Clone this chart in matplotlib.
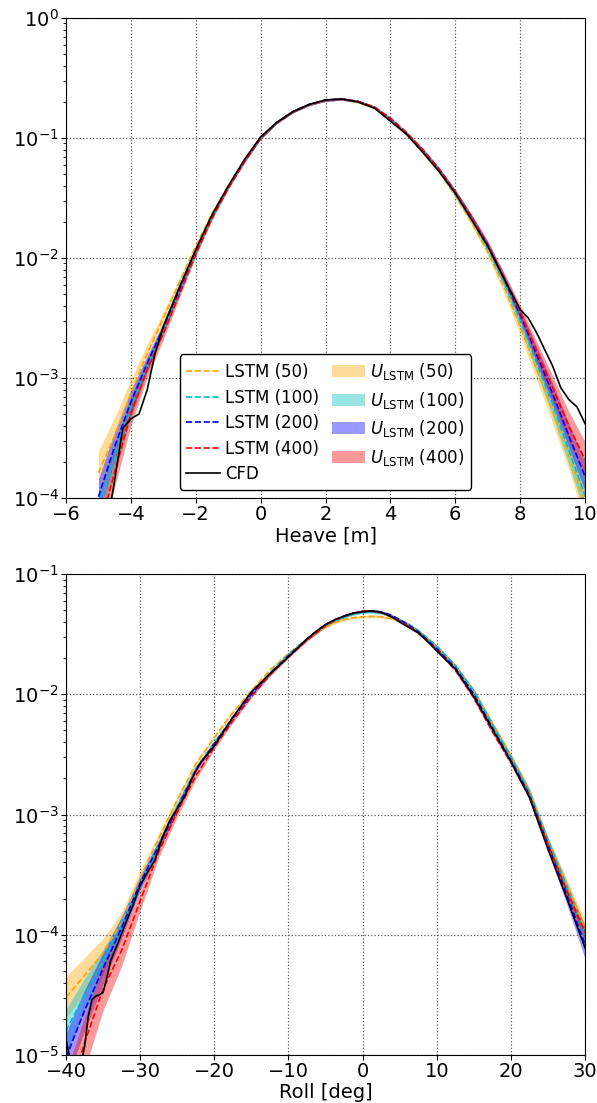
import numpy as np
import matplotlib
matplotlib.use("Agg")
import matplotlib.pyplot as plt

# values are log10 of the density
labels = ["50", "100", "200", "400"]
colors = ["orange", "c", "b", "r"]

# ---------------- Heave ----------------
heave_x = [-5.0, -4.5, -4.0, -3.5, -3.0, -2.5, -2.0, -1.5, -1.0, -0.5, 0.0,
           0.5, 1.0, 1.5, 2.0, 2.5, 3.0, 3.5, 4.0, 4.5, 5.0, 5.5, 6.0, 6.5,
           7.0, 7.5, 8.0, 8.5, 9.0, 9.5, 10.0]

heave_50 = [-3.79, -3.48, -3.13, -2.80, -2.50, -2.20, -1.90, -1.63, -1.40, -1.19, -1.0,
            -0.87, -0.78, -0.72, -0.685, -0.675, -0.70, -0.75, -0.85, -0.97, -1.12,
            -1.28, -1.48, -1.70, -1.95, -2.24, -2.57, -2.92, -3.27, -3.63, -4.05]
heave_100 = [-4.12, -3.68, -3.25, -2.90, -2.60, -2.27, -1.95, -1.66, -1.41, -1.19, -1.0,
             -0.87, -0.78, -0.72, -0.685, -0.675, -0.695, -0.745, -0.845, -0.965, -1.11,
             -1.27, -1.47, -1.68, -1.92, -2.20, -2.52, -2.87, -3.22, -3.60, -3.98]
heave_200 = [-3.99, -3.57, -3.20, -2.88, -2.58, -2.26, -1.94, -1.65, -1.41, -1.19, -1.0,
             -0.87, -0.78, -0.72, -0.685, -0.675, -0.695, -0.745, -0.84, -0.96, -1.10,
             -1.26, -1.45, -1.66, -1.89, -2.17, -2.47, -2.80, -3.13, -3.48, -3.82]
heave_400 = [-4.30, -3.78, -3.30, -2.93, -2.63, -2.30, -1.97, -1.67, -1.42, -1.20, -1.0,
             -0.87, -0.78, -0.72, -0.685, -0.675, -0.695, -0.74, -0.835, -0.955, -1.10,
             -1.26, -1.45, -1.66, -1.89, -2.16, -2.45, -2.77, -3.08, -3.40, -3.68]

# half width of the uncertainty band, decades
heave_u50 = [0.18, 0.15, 0.12, 0.08, 0.05, 0.03, 0.02, 0.015, 0.01, 0.01, 0.01,
             0.01, 0.01, 0.01, 0.01, 0.01, 0.01, 0.01, 0.01, 0.01, 0.015,
             0.015, 0.02, 0.025, 0.03, 0.05, 0.07, 0.09, 0.11, 0.13, 0.15]
heave_u100 = [0.13, 0.12, 0.09, 0.06, 0.04, 0.03, 0.02, 0.015, 0.01, 0.01, 0.01,
              0.01, 0.01, 0.01, 0.01, 0.01, 0.01, 0.01, 0.01, 0.01, 0.015,
              0.015, 0.02, 0.025, 0.03, 0.04, 0.06, 0.08, 0.10, 0.12, 0.15]
heave_u200 = [0.15, 0.12, 0.10, 0.06, 0.04, 0.03, 0.02, 0.015, 0.01, 0.01, 0.01,
              0.01, 0.01, 0.01, 0.01, 0.01, 0.01, 0.01, 0.01, 0.01, 0.015,
              0.015, 0.02, 0.025, 0.03, 0.04, 0.05, 0.07, 0.09, 0.10, 0.12]
heave_u400 = [0.15, 0.13, 0.10, 0.07, 0.05, 0.03, 0.02, 0.015, 0.01, 0.01, 0.01,
              0.01, 0.01, 0.01, 0.01, 0.01, 0.01, 0.01, 0.01, 0.01, 0.015,
              0.015, 0.02, 0.025, 0.03, 0.04, 0.06, 0.08, 0.10, 0.12, 0.15]

cfd_heave_x = [-5.0, -4.75, -4.5, -4.25, -4.0, -3.75, -3.5, -3.25, -3.0, -2.5, -2.0,
               -1.5, -1.0, -0.5, 0.0, 0.5, 1.0, 1.5, 2.0, 2.5, 3.0, 3.5, 4.0, 4.5,
               5.0, 5.5, 6.0, 6.5, 7.0, 7.5, 8.0, 8.25, 8.5, 8.75, 9.0, 9.25, 9.5,
               9.75, 10.0]
cfd_heave = [-4.6, -4.25, -3.85, -3.42, -3.34, -3.30, -3.10, -2.79, -2.57, -2.24, -1.93,
             -1.64, -1.40, -1.18, -0.99, -0.87, -0.78, -0.72, -0.683, -0.675, -0.70,
             -0.75, -0.86, -0.97, -1.12, -1.28, -1.46, -1.68, -1.90, -2.17, -2.43,
             -2.50, -2.62, -2.76, -2.90, -3.08, -3.18, -3.24, -3.38]

# ---------------- Roll ----------------
roll_x = [-40, -37.5, -35, -32.5, -30, -27.5, -25, -22.5, -20, -17.5, -15, -12.5,
          -10, -7.5, -6.25, -5, -3.75, -2.5, -1.25, 0, 1.25, 2.5, 3.75, 5, 6.25,
          7.5, 10, 12.5, 15, 17.5, 20, 22.5, 25, 27.5, 30]

roll_50 = [-4.52, -4.34, -4.15, -3.90, -3.53, -3.20, -2.88, -2.58, -2.36, -2.15, -1.97,
           -1.80, -1.66, -1.54, -1.49, -1.44, -1.405, -1.38, -1.363, -1.355, -1.352,
           -1.355, -1.368, -1.39, -1.425, -1.47, -1.60,
           -1.76, -1.97, -2.24, -2.51, -2.80, -3.22, -3.58, -3.95]
roll_100 = [-4.80, -4.50, -4.22, -3.92, -3.58, -3.25, -2.93, -2.62, -2.40, -2.19, -2.0,
            -1.82, -1.67, -1.54, -1.485, -1.43, -1.39, -1.36, -1.335, -1.32, -1.318,
            -1.325, -1.345, -1.38, -1.42, -1.47, -1.60,
            -1.76, -1.97, -2.25, -2.52, -2.81, -3.22, -3.60, -4.0]
roll_200 = [-5.02, -4.63, -4.28, -3.94, -3.57, -3.26, -2.95, -2.63, -2.41, -2.20, -2.0,
            -1.83, -1.68, -1.54, -1.48, -1.42, -1.38, -1.35, -1.325, -1.31, -1.307,
            -1.315, -1.34, -1.38, -1.425, -1.48, -1.62,
            -1.78, -2.0, -2.28, -2.55, -2.84, -3.25, -3.66, -4.08]
roll_400 = [-5.40, -4.90, -4.45, -4.13, -3.72, -3.31, -2.98, -2.68, -2.44, -2.22, -2.02,
            -1.84, -1.69, -1.55, -1.49, -1.43, -1.385, -1.35, -1.325, -1.31, -1.307,
            -1.32, -1.35, -1.39, -1.435, -1.49, -1.63,
            -1.80, -2.03, -2.31, -2.57, -2.85, -3.25, -3.63, -3.98]

roll_u50 = [0.17, 0.15, 0.12, 0.09, 0.06, 0.04, 0.03, 0.02, 0.015, 0.01, 0.01, 0.01,
            0.01, 0.01, 0.01, 0.01, 0.01, 0.01, 0.01, 0.01, 0.01, 0.01, 0.01, 0.01,
            0.01, 0.01, 0.01, 0.01, 0.015, 0.02, 0.02, 0.025, 0.03, 0.05, 0.07]
roll_u100 = [0.18, 0.14, 0.10, 0.07, 0.05, 0.04, 0.03, 0.02, 0.015, 0.01, 0.01, 0.01,
             0.01, 0.01, 0.01, 0.01, 0.01, 0.01, 0.01, 0.01, 0.01, 0.01, 0.01, 0.01,
             0.01, 0.01, 0.01, 0.01, 0.015, 0.02, 0.02, 0.025, 0.03, 0.05, 0.07]
roll_u200 = [0.20, 0.17, 0.13, 0.09, 0.06, 0.04, 0.03, 0.02, 0.015, 0.01, 0.01, 0.01,
             0.01, 0.01, 0.01, 0.01, 0.01, 0.01, 0.01, 0.01, 0.01, 0.01, 0.01, 0.01,
             0.01, 0.01, 0.01, 0.01, 0.015, 0.02, 0.02, 0.03, 0.05, 0.08, 0.12]
roll_u400 = [0.25, 0.22, 0.18, 0.13, 0.08, 0.05, 0.04, 0.03, 0.02, 0.015, 0.01, 0.01,
             0.01, 0.01, 0.01, 0.01, 0.01, 0.01, 0.01, 0.01, 0.01, 0.01, 0.01, 0.01,
             0.01, 0.01, 0.01, 0.015, 0.02, 0.02, 0.02, 0.025, 0.03, 0.05, 0.06]

cfd_roll_x = [-40, -39.5, -39, -38.5, -38, -37.5, -37, -36.5, -36, -35.5, -35, -34.5,
              -34, -33, -32, -31, -30, -29, -28, -27, -26, -25, -24, -23, -22, -20,
              -17.5, -15, -12.5, -10, -7.5, -6.25, -5, -3.75, -2.5, -1.25, 0, 1, 2,
              3, 4, 5, 6.25, 7.5, 8.75, 10, 12.5, 15, 17.5, 20, 22.5, 25, 27.5, 30]
cfd_roll = [-4.87, -5.02, -5.15, -5.2, -5.08, -4.93, -4.68, -4.54, -4.51, -4.50, -4.48,
            -4.36, -4.22, -4.07, -3.91, -3.76, -3.59, -3.48, -3.38, -3.19, -3.05, -2.95,
            -2.85, -2.70, -2.58, -2.43, -2.19, -1.98, -1.83, -1.69, -1.54, -1.475,
            -1.42, -1.38, -1.35, -1.325, -1.315, -1.308, -1.312, -1.33, -1.36, -1.40,
            -1.445, -1.49, -1.56, -1.64, -1.79, -2.02, -2.29, -2.56, -2.86, -3.29,
            -3.69, -4.11]


def draw_panel(ax, x, means, widths, cfd_x, cfd):
    x = np.array(x)
    for m, w, c in zip(means, widths, colors):
        m = np.array(m)
        w = np.array(w)
        ax.fill_between(x, 10 ** (m - w), 10 ** (m + w), color=c, alpha=0.4,
                        linewidth=0)
    lines = []
    for m, c, lab in zip(means, colors, labels):
        l, = ax.plot(x, 10 ** np.array(m), "--", color=c, lw=1.2,
                     label="LSTM (%s)" % lab)
        lines.append(l)
    l, = ax.plot(cfd_x, 10 ** np.array(cfd), "k-", lw=1.2, label="CFD")
    lines.append(l)
    ax.set_yscale("log")
    ax.grid(True, which="major", linestyle=":", color="0.35", linewidth=0.9)
    ax.tick_params(labelsize=14, pad=1.5)
    return lines


fig = plt.figure(figsize=(5.97, 11.03), dpi=100)
ax1 = fig.add_axes([0.1106, 0.5485, 0.8694, 0.4352])
ax2 = fig.add_axes([0.1106, 0.0435, 0.8694, 0.4361])

lines = draw_panel(ax1, heave_x,
                   [heave_50, heave_100, heave_200, heave_400],
                   [heave_u50, heave_u100, heave_u200, heave_u400],
                   cfd_heave_x, cfd_heave)
ax1.set_xlim(-6, 10)
ax1.set_ylim(1e-4, 1e0)
ax1.set_xlabel("Heave [m]", fontsize=14, labelpad=1.5)

patches = [plt.Rectangle((0, 0), 1, 1, color=c, alpha=0.4, linewidth=0)
           for c in colors]
plabels = [r"$U_{\rm LSTM}$ (%s)" % lab for lab in labels]
leg = ax1.legend(lines + patches, [l.get_label() for l in lines] + plabels,
                 ncol=2, loc="lower center", fontsize=12, framealpha=1,
                 edgecolor="k", handlelength=2.0, columnspacing=0.8,
                 handletextpad=0.3, labelspacing=0.45)

draw_panel(ax2, roll_x,
           [roll_50, roll_100, roll_200, roll_400],
           [roll_u50, roll_u100, roll_u200, roll_u400],
           cfd_roll_x, cfd_roll)
ax2.set_xlim(-40, 30)
ax2.set_ylim(1e-5, 1e-1)
ax2.set_xlabel("Roll [deg]", fontsize=14, labelpad=1.5)

fig.savefig("out.png", dpi=100)
